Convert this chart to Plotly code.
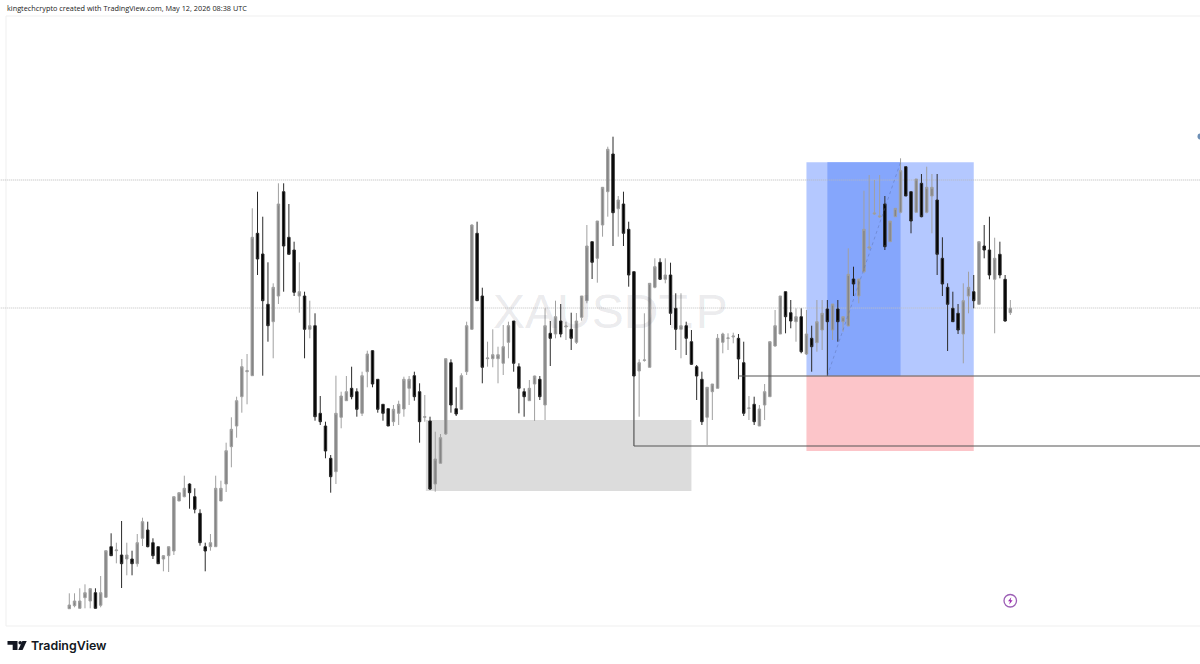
import plotly.graph_objects as go

# Price-like values (one unit per chart pixel)
opens = [391.3,394.3,391.7,402.3,399,407.3,394.7,402.7,453.3,449.3,445,441,441,436.3,461.7,470,457.3,453.3,441,444.3,
 449,499,503.3,516,503.3,486.7,453.3,453.3,453.3,499,516,553.3,574,603.3,628.3,624.3,766.7,746,695.7,678.3,
 704,808.3,762.7,750,704,704,670.7,674.3,586.7,574,541.7,528.3,582.7,599.3,611.7,608.3,586.7,628.3,649.3,620.7,
 595.7,591.3,578.3,586.7,591,611.7,624.3,608.3,582.7,579,516,536.7,566,637.3,591.3,590.7,628.3,670.7,766.7,704,
 641.3,641.3,641.3,636.7,657.7,679,633.3,608.3,599.3,616,620.7,595,666.7,666,679,673,670.7,657.7,682.7,699.3,
 758.3,741.7,775,808.3,846,791.3,796,770.7,728.3,629,639.7,632.7,712.7,737.7,720.7,725,691.7,670.7,674.3,658.3,
 633.3,620.7,582.7,608.3,611.7,657.7,661.7,663,661.7,637.3,591.7,595.7,574,595,603.3,654,666,708.3,687.3,678.3,
 683.3,646,661.7,657.3,670,691,670,691,678.3,674,721,704,728.3,752,786,783,796,758.3,783.3,787.7,
 833.3,808.3,787.7,816.7,787.7,804,800,741.7,712.7,691.7,686.7,666,704,708.3,695.7,754,750,720.7,745.7,720.7,
 687.3]
highs = [406.7,406.7,411.7,415.7,411.7,411.7,424,449.3,466.7,457.3,479,457.3,449.3,466,482.3,478.3,461.7,453.3,445,453.3,
 503.3,507.3,524.3,516.7,511.7,490.7,457.3,466,524.3,519.3,557.3,582.7,603.3,641,646,791.7,808.3,783.3,737.7,716.7,
 816.7,816.7,796,758.3,737.7,708.3,699.3,686.7,604,578.3,545,624.3,608.3,624,633.3,611.7,628.3,649.3,650,620.7,
 595.7,591.3,595,599.3,623.3,624,628.3,616.7,605,583.3,568.3,566,641.3,640.7,612.7,626.7,678.3,775.7,778.3,712.3,
 658.3,670.7,653.3,675,678.3,679,636.7,611.7,620,624.3,624,691.7,679,699.3,696,678.3,687.3,687,704,775,
 758.3,779,812.7,853.3,863.3,804,808.3,778.3,728.3,640.7,686.7,716.7,741.7,741.7,741.7,737.3,706.7,706.7,678.3,670,
 635,628.3,612.7,616,666,667.3,666.7,667.3,666,658.3,604,603.3,595,616,658.3,690,704,708.3,700,691.7,
 691.7,690,674.3,700,700,700,696,700,683.3,751.7,733.3,721,809.3,825,820,825,804,779,791.7,841.7,
 833.3,808.3,821,826,833.3,826,826,762.7,716.7,708.3,696,716.7,728.3,725,758.3,775,783.3,762.3,758.3,725,
 700]
lows = [391.3,392.7,391.3,391.7,391.7,391.3,392.7,402.3,444,436.7,412,424.7,424.7,433.3,454,452.7,441,436.3,428.7,428,
 445,499,502.7,491.3,486.7,454.3,428.7,449.3,453.3,499,508,532.7,562.3,587.3,595.7,624.3,725,624.3,658.3,641.7,
 696,708.3,745.7,704,687.3,641.7,661.7,579.3,575,541.7,507.3,516,571.7,599.3,600.7,583.3,584,612.7,612.7,587.3,
 579.3,574,574,575,583.3,595,599.3,557.3,578.3,510,508.3,536.7,565,587.3,584,590,625,670,699,616.7,
 633.3,632.7,616.7,625,641.7,628.3,586.7,583.3,599.3,579,600,580,634,661.7,662.7,660,650,656,679.3,696.7,
 721,717.3,763.3,783.3,754,763.3,754,713.3,623.3,583.3,638.3,632.7,711.7,720,716.7,675,650,641.7,645,635,
 600,575,555,580,611.7,646.7,650,656.7,620.7,584,580,575,574,580,603.3,653.3,666,666.7,671.7,658.3,
 646.7,645,628.3,648.3,650,624.3,660,658.3,668.3,674,704,696.7,726.7,750,785,782,750,758.3,783.3,786.7,
 804,766.7,787.7,782.7,786.7,766.7,725,704,649,678.3,666,636.7,686.7,691.7,695.7,741.7,720.7,666.7,721.7,678.3,
 685]
closes = [395,399,399,407.3,411.3,391.7,407.3,449.3,444.3,450,436.3,445,436.3,457.3,478.3,453.3,444.3,436.3,444.3,453.3,
 503.3,507.3,511.7,507.3,490.7,457.3,449,457.3,511.7,511.7,549.3,570.7,599.3,633.3,629.3,762.7,741,699.3,674.3,712.7,
 796,754,745.7,707.7,708.3,670.7,674.3,583.3,578.3,549,523.3,586.7,604,608.3,603.3,590.7,624.3,646,616,590.7,
 586.7,574,590.7,595.7,620.7,620.7,603.3,578.3,583.3,511,541,562.3,641.3,595,586,624.3,674.3,775,699.3,632.7,
 642,645.3,645.3,653.3,674.3,636.7,611.7,603.3,611.7,624,603.3,674.3,661.7,683.3,666,674,661.7,679,704,754,
 737.7,779,812.7,850.7,787.3,800,766.7,725,624,637.3,640,716.7,733.3,720.7,725,686.7,670.7,674.3,661.7,635.7,
 624,578.3,612.7,616,661.7,666,662,664,641,586.7,592,578.3,591,608.3,658.3,674.3,704,683.3,679,683.3,
 648.3,666,653.3,678.3,686.7,678.3,696,678.3,683.3,725.7,716,721,770.7,753,787,784,753.3,779,791.7,829.3,
 804,779,821,783.3,812.7,812.7,745.7,716,695.7,678.3,670,699.3,712.7,699.3,758.3,750,725,741.7,725,679,
 691.7]

# Price levels and candle indexes of the drawn zones
level_upper = 820
level_lower = 692
pos_left, pos_entry, pos_exit, pos_right = 141, 145, 159, 173
pos_top, pos_mid, pos_bottom = 837.7, 624.3, 549
box_left, box_right, box_top, box_bottom = 68.2, 119, 580, 509
ray_a_start, ray_a_price = 128, 624
ray_b_start, ray_b_price = 108, 554

W, H = 1200, 664
PX_0, PX_STEP = 69.3, 5.228
P_TOP = 1000

def px(x):
    return x / W

def py(y):
    return 1 - y / H

x_vals = list(range(len(opens)))

fig = go.Figure(go.Candlestick(
    x=x_vals, open=opens, high=highs, low=lows, close=closes,
    whiskerwidth=0,
    increasing=dict(line=dict(color="#a0a0a0", width=1), fillcolor="#858585"),
    decreasing=dict(line=dict(color="#2a2a2a", width=1), fillcolor="#000000"),
    hoverinfo="skip",
))

def rect(x0, x1, y0, y1, color):
    return dict(type="rect", x0=x0, x1=x1, y0=y0, y1=y1, fillcolor=color,
                line_width=0, layer="below")

def line(x0, x1, y0, y1, color, width=1, dash="solid", layer="above", xref="x"):
    return dict(type="line", x0=x0, x1=x1, y0=y0, y1=y1, xref=xref,
                line=dict(color=color, width=width, dash=dash), layer=layer)

x_end = (W - PX_0) / PX_STEP
shapes = [
    rect(box_left, box_right, box_bottom, box_top, "#dcdcdc"),
    rect(pos_left, pos_right, pos_mid, pos_top, "#b4c8ff"),
    rect(pos_entry, pos_exit, pos_mid, pos_top, "#85a6fc"),
    rect(pos_left, pos_right, pos_bottom, pos_mid, "#fcc5c9"),
    line(-20, x_end + 5, level_upper, level_upper, "#b8b8b8", 1, "1px,1px", "below"),
    line(-20, x_end + 5, level_lower, level_lower, "#c0c0c0", 1, "1px,1px", "below"),
    line(pos_entry, pos_exit, pos_mid, pos_top, "rgba(90,110,170,0.45)", 1, "dot"),
    line(ray_a_start, x_end + 5, ray_a_price, ray_a_price, "#555555", 1.2),
    line(ray_b_start, x_end + 5, ray_b_price, ray_b_price, "#555555", 1.2),
    line(ray_b_start, ray_b_start, ray_a_price, ray_b_price, "#555555", 1.2),
    # chart frame
    dict(type="rect", xref="paper", yref="paper", x0=px(6), x1=px(1206), y0=py(626), y1=py(16),
         line=dict(color="#efefef", width=1), layer="below"),
    # TradingView logo
    dict(type="path", xref="paper", yref="paper", fillcolor="#131722", line_width=0,
         path=f"M{px(7.5)},{py(641)} L{px(17.5)},{py(641)} L{px(17.5)},{py(650)} L{px(12.7)},{py(650)} L{px(12.7)},{py(644.8)} L{px(7.5)},{py(644.8)} Z"),
    dict(type="circle", xref="paper", yref="paper", fillcolor="#131722", line_width=0,
         x0=px(18.4), x1=px(22), y0=py(644.5), y1=py(640.9)),
    dict(type="path", xref="paper", yref="paper", fillcolor="#131722", line_width=0,
         path=f"M{px(22.4)},{py(641)} L{px(26.7)},{py(641)} L{px(22.6)},{py(650)} L{px(18.2)},{py(650)} Z"),
    # purple bolt badge
    dict(type="circle", xref="paper", yref="paper", fillcolor="#ffffff",
         line=dict(color="#9c5fb5", width=1.3), x0=px(1004), x1=px(1016.5), y0=py(607), y1=py(594.5)),
    dict(type="path", xref="paper", yref="paper", fillcolor="#9c27b0", line_width=0,
         path=f"M{px(1011.3)},{py(597.2)} L{px(1008)},{py(601.3)} L{px(1010)},{py(601.3)} L{px(1009.2)},{py(604.4)} L{px(1012.6)},{py(600.2)} L{px(1010.6)},{py(600.2)} Z"),
    # edge marker
    dict(type="circle", xref="paper", yref="paper", fillcolor="#6d8fb5", line_width=0,
         x0=px(1197.5), x1=px(1203.5), y0=py(139.5), y1=py(133.5)),
]

annotations = [
    dict(text="kingtechcrypto created with TradingView.com, May 12, 2026 08:38 UTC",
         xref="paper", yref="paper", x=px(4.5), y=py(8), xanchor="left", yanchor="middle",
         showarrow=False, font=dict(family="Open Sans", size=7.3, color="#222222")),
    dict(text="TradingView", xref="paper", yref="paper", x=px(28.5), y=py(645.5),
         xanchor="left", yanchor="middle", showarrow=False,
         font=dict(family="Inter", size=12.4, color="#131722", weight=600)),
    dict(text="XAUSDT.P", xref="paper", yref="paper", x=px(610.5), y=py(311.5),
         xanchor="center", yanchor="middle", showarrow=False,
         font=dict(family="Liberation Sans", size=48, color="rgba(60,60,80,0.11)")),
]

fig.update_layout(
    width=W, height=H, margin=dict(l=0, r=0, t=0, b=0, pad=0),
    paper_bgcolor="#ffffff", plot_bgcolor="#ffffff", showlegend=False,
    boxgap=0.33,
    xaxis=dict(range=[-PX_0 / PX_STEP, x_end], visible=False, rangeslider=dict(visible=False), showgrid=False),
    yaxis=dict(range=[P_TOP - H, P_TOP], visible=False, showgrid=False),
    shapes=shapes, annotations=annotations,
)

fig.write_html("out.html", config={"displayModeBar": False},
               post_script="document.body.style.margin='0';document.body.style.overflow='hidden';")
